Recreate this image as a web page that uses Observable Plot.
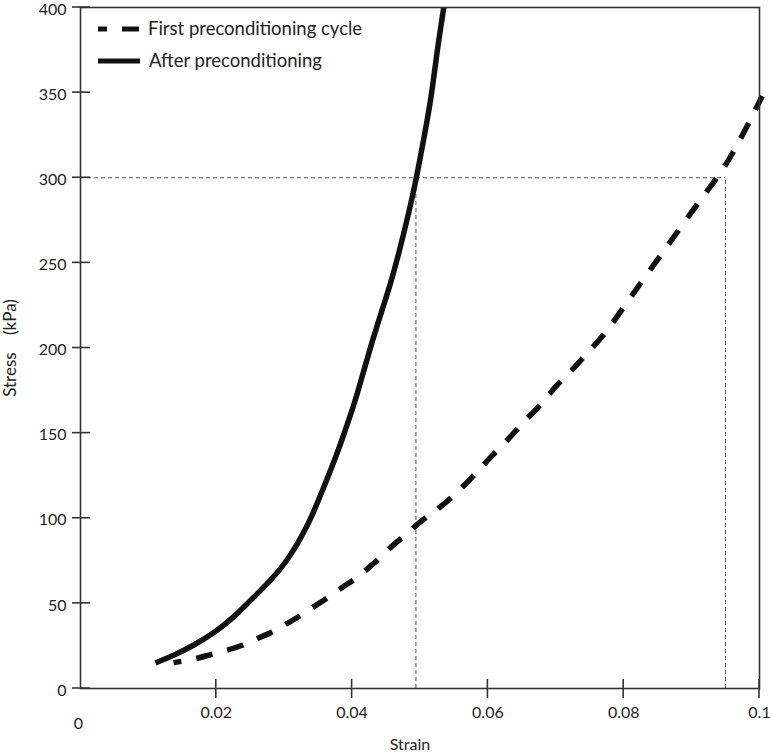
<!DOCTYPE html>
<html>
<head>
<meta charset="utf-8">
<script src="https://cdn.jsdelivr.net/npm/d3@7"></script>
<script src="https://cdn.jsdelivr.net/npm/@observablehq/plot@0.6"></script>
<style>
  body { margin: 0; background: white; }
  #chart { position: relative; width: 772px; height: 754px; }
</style>
</head>
<body>
<div id="chart"></div>
<script>
// Data: "After preconditioning" (solid)
const strainAfter = [0.01105, 0.014, 0.0166, 0.0197, 0.0225, 0.025, 0.028, 0.0305, 0.0334, 0.0358, 0.0378, 0.0393, 0.0405, 0.0432, 0.0457, 0.0476, 0.0493, 0.0503, 0.0516, 0.0525, 0.0535];
const stressAfter = [15.0, 19.9, 25.2, 32.6, 41.6, 51.6, 63.3, 75.1, 94.4, 117.9, 137.8, 155.4, 168.9, 208, 237.4, 266.7, 296, 317.5, 344.9, 374.2, 400];

// Data: "First preconditioning cycle" (dashed)
const strainFirst = [0.0137, 0.0166, 0.0187, 0.0214, 0.0239, 0.026, 0.0282, 0.0304, 0.0324, 0.0346, 0.0365, 0.0385, 0.0405, 0.0425, 0.0442, 0.0461, 0.0479, 0.0498, 0.0518, 0.0538, 0.0555, 0.0574, 0.0589, 0.0606, 0.0623, 0.0641, 0.0655, 0.0675, 0.069, 0.0707, 0.0724, 0.0741, 0.0756, 0.0776, 0.081, 0.0854, 0.0916, 0.0946, 0.0976, 0.1004];
const stressFirst = [15.2, 17, 19.4, 22.3, 25.2, 29.3, 33, 38.1, 42.8, 48.7, 53.5, 59.4, 64.3, 71.1, 77, 84.9, 89.7, 97.5, 102.8, 109.3, 115.1, 123, 129.4, 136.7, 143.5, 151.3, 157.6, 165.4, 172.8, 180.6, 186.9, 194.7, 201.2, 210, 230, 254, 289, 304, 325.5, 348];

// Reference guides (stress level and the strains where each curve reaches it)
const guideStress = [300];
const guideStrain = [0.0494, 0.095];

// Ticks and labels
const xTicks = [0.02, 0.04, 0.06, 0.08, 0.1];
const xTickLabels = ["0.02", "0.04", "0.06", "0.08", "0.1"];
const yTicks = [0, 50, 100, 150, 200, 250, 300, 350, 400];
const seriesNames = ["First preconditioning cycle", "After preconditioning"];
const xTitle = "Strain";
const yTitle = "Stress\u00a0\u00a0\u00a0\u00a0(kPa)";

const after = strainAfter.map((x, i) => ({x, y: stressAfter[i]}));
const first = strainFirst.map((x, i) => ({x, y: stressFirst[i]}));

const axisColor = "#333";
const plot = Plot.plot({
  width: 772,
  height: 754,
  marginLeft: 80,
  marginRight: 13,
  marginTop: 7,
  marginBottom: 66,
  x: {domain: [0, 0.1]},
  y: {domain: [0, 400]},
  style: {fontFamily: "Lato, sans-serif", fontSize: "16px", color: "#222", background: "white", overflow: "visible"},
  marks: [
    Plot.ruleY(guideStress, {x1: 0, x2: guideStrain[1], stroke: "#555", strokeWidth: 1, strokeDasharray: "4,3"}),
    Plot.ruleX(guideStrain, {y1: 0, y2: guideStress[0], stroke: "#555", strokeWidth: 1, strokeDasharray: "4,3"}),
    Plot.line(first, {x: "x", y: "y", curve: "basis", stroke: "#111", strokeWidth: 5.5, strokeDasharray: "17,15", strokeDashoffset: 9, strokeLinecap: "butt"}),
    Plot.line(after, {x: "x", y: "y", curve: "basis", stroke: "#111", strokeWidth: 5.5, strokeLinecap: "butt"}),
    Plot.frame({stroke: axisColor, strokeWidth: 1.6}),
    // tick labels
    Plot.axisX(xTicks, {tickSize: 0, tickPadding: 18, tickFormat: (d, i) => xTickLabels[i], label: null}),
    Plot.axisX([0], {tickSize: 0, tickPadding: 29, tickFormat: () => "0", label: null, dx: -2}),
    Plot.axisY(yTicks, {tickSize: 0, tickPadding: 14, tickFormat: d => String(d), label: null, dy: 2}),
    // axis titles
    Plot.text([xTitle], {frameAnchor: "bottom", lineAnchor: "middle", dy: 56, dx: -10, fontSize: 16}),
    Plot.text([yTitle], {frameAnchor: "left", textAnchor: "middle", dx: -70, rotate: -90, fontSize: 17})
  ]
});
document.getElementById("chart").appendChild(plot);

const svg = d3.select(plot);
const sx = plot.scale("x"), sy = plot.scale("y");
const x0 = sx.apply(0), y0 = sy.apply(0);

// crossing tick marks on both axes, placed with the plot's own scales
const tg = svg.append("g").attr("stroke", axisColor).attr("stroke-width", 1.6);
xTicks.forEach(t => {
  const px = sx.apply(t);
  tg.append("line").attr("x1", px).attr("x2", px).attr("y1", y0 - 9).attr("y2", y0 + 10);
});
yTicks.forEach(t => {
  const py = sy.apply(t);
  tg.append("line").attr("x1", x0 - 8).attr("x2", x0 + 10).attr("y1", py).attr("y2", py);
});

// Legend drawn inside the plot area (top-left)
const lg = svg.append("g").attr("font-family", "Lato, sans-serif").attr("font-size", 18.5)
  .attr("fill", "#222").attr("text-anchor", "start");
lg.append("line").attr("x1", 98).attr("x2", 141).attr("y1", 29).attr("y2", 29)
  .attr("stroke", "#111").attr("stroke-width", 5).attr("stroke-dasharray", "9,15,17,20");
lg.append("text").attr("x", 148).attr("y", 35).text(seriesNames[0]);
lg.append("line").attr("x1", 98).attr("x2", 140).attr("y1", 61).attr("y2", 61)
  .attr("stroke", "#111").attr("stroke-width", 5);
lg.append("text").attr("x", 149).attr("y", 67).text(seriesNames[1]);
</script>
</body>
</html>
